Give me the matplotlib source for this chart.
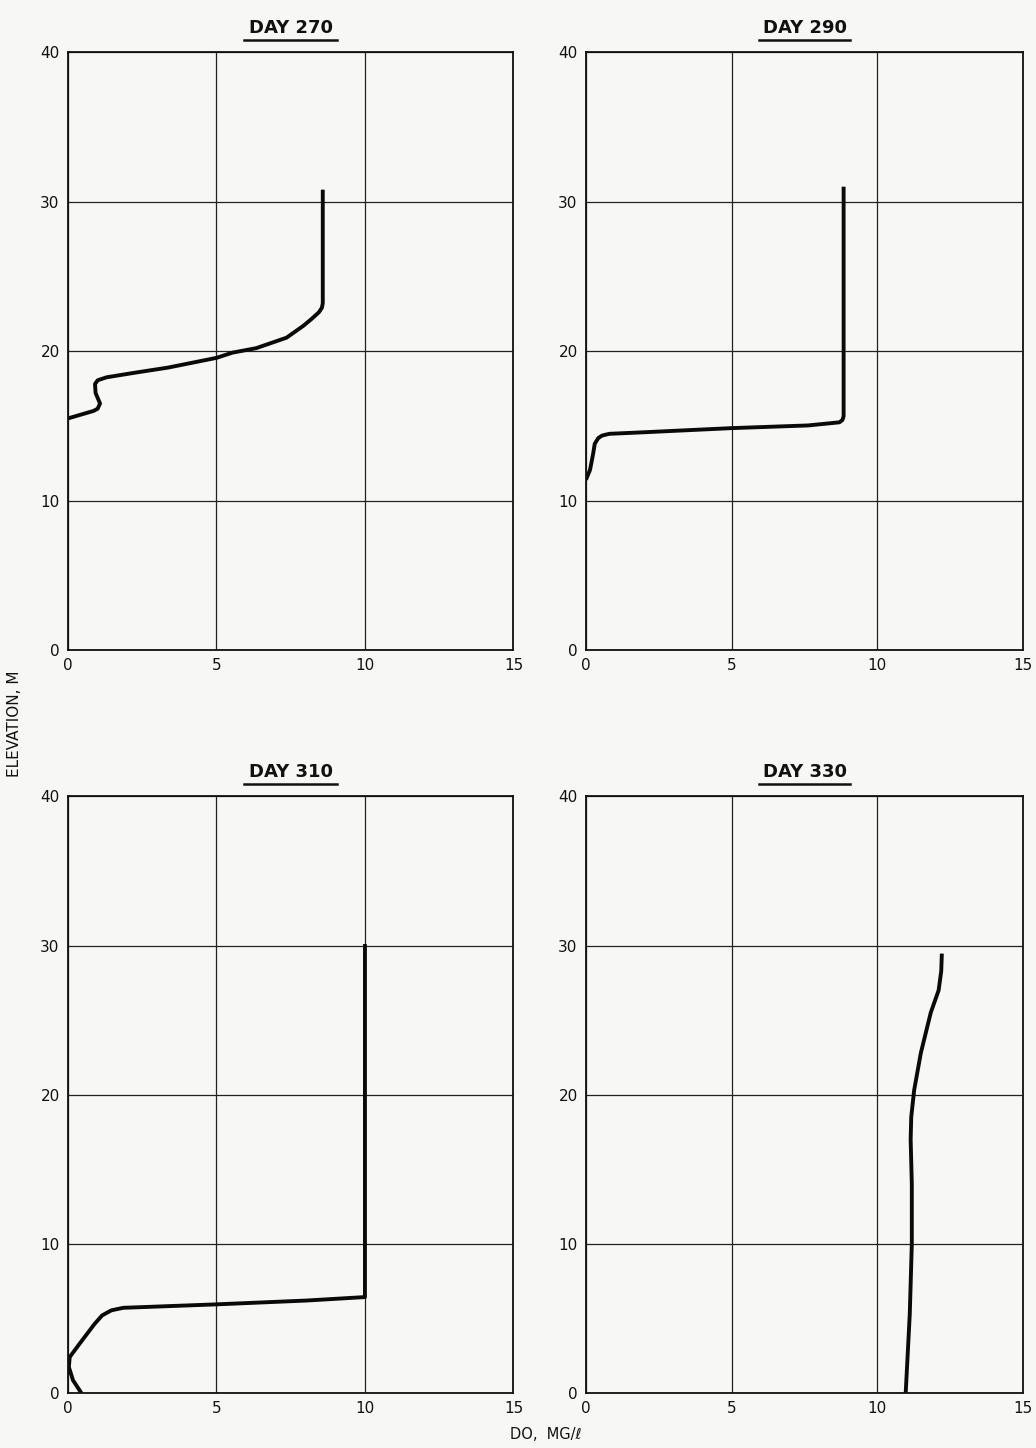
import matplotlib
matplotlib.use("Agg")
import matplotlib.pyplot as plt
from matplotlib.lines import Line2D
import logging
logging.getLogger("matplotlib.font_manager").setLevel(logging.ERROR)

# ---- data (DO in mg/l, elevation in m) ----
titles = ["DAY 270", "DAY 290", "DAY 310", "DAY 330"]

do_270 = [8.58, 8.58, 8.55, 8.45, 8.2, 7.93, 7.36, 6.34, 5.54, 5.0, 3.37, 2.23, 1.3, 1.0, 0.91, 0.93, 1.08, 1.0, 0.86, 0.0]
el_270 = [30.8, 23.2, 22.9, 22.6, 22.15, 21.7, 20.9, 20.2, 19.9, 19.55, 18.9, 18.55, 18.25, 18.05, 17.8, 17.2, 16.5, 16.15, 16.0, 15.5]

do_290 = [8.84, 8.84, 8.80, 8.70, 7.62, 4.99, 1.84, 0.80, 0.55, 0.42, 0.30, 0.25, 0.14, 0.0]
el_290 = [31.0, 15.64, 15.4, 15.24, 15.03, 14.85, 14.56, 14.47, 14.35, 14.18, 13.8, 13.18, 12.06, 11.4]

do_310 = [10.0, 10.0, 8.05, 4.98, 1.86, 1.46, 1.15, 0.9, 0.39, 0.06, 0.03, 0.17, 0.45]
el_310 = [30.1, 6.43, 6.2, 5.94, 5.71, 5.54, 5.2, 4.64, 3.3, 2.41, 1.74, 0.85, 0.0]

do_330 = [12.21, 12.19, 12.1, 11.83, 11.49, 11.26, 11.16, 11.14, 11.18, 11.18, 11.11, 10.97]
el_330 = [29.46, 28.3, 27.0, 25.5, 22.8, 20.3, 18.5, 17.0, 14.0, 10.0, 5.3, 0.0]

x_ticks = [0, 5, 10, 15]
y_ticks = [0, 10, 20, 30, 40]

series = [(do_270, el_270), (do_290, el_290), (do_310, el_310), (do_330, el_330)]

bg = "#f7f7f5"
fig = plt.figure(figsize=(10.36, 14.48), dpi=100, facecolor=bg)

positions = [
    [0.0656, 0.551, 0.430, 0.413],
    [0.5656, 0.551, 0.422, 0.413],
    [0.0656, 0.038, 0.430, 0.412],
    [0.5656, 0.038, 0.422, 0.412],
]

for pos, (x, y), title in zip(positions, series, titles):
    ax = fig.add_axes(pos)
    ax.set_facecolor(bg)
    ax.set_xlim(0, 15)
    ax.set_ylim(0, 40)
    ax.set_xticks(x_ticks)
    ax.set_yticks(y_ticks)
    ax.grid(True, color="#222222", linewidth=0.9)
    ax.tick_params(length=0, labelsize=11, pad=6, colors="#111111")
    for s in ax.spines.values():
        s.set_linewidth(1.3)
        s.set_color("#111111")
    ax.plot(x, y, color="#0a0a0a", linewidth=2.8, solid_capstyle="butt",
            solid_joinstyle="round")
    ax.set_title(title, fontsize=13, fontweight="bold", pad=14, color="#111111",
                 family=["Liberation Sans Narrow", "DejaVu Sans"])
    # underline under the title
    ax.add_line(Line2D([0.395, 0.605], [1.021, 1.021], transform=ax.transAxes,
                       color="#111111", linewidth=1.8, clip_on=False))

fig.text(0.014, 0.50, "ELEVATION, M", rotation=90, ha="center", va="center",
         fontsize=11, color="#111111")
fig.text(0.527, 0.009, "DO,  MG/ℓ", ha="center", va="center",
         fontsize=10.5, color="#111111")

fig.savefig("out.png", dpi=100, facecolor=bg)
